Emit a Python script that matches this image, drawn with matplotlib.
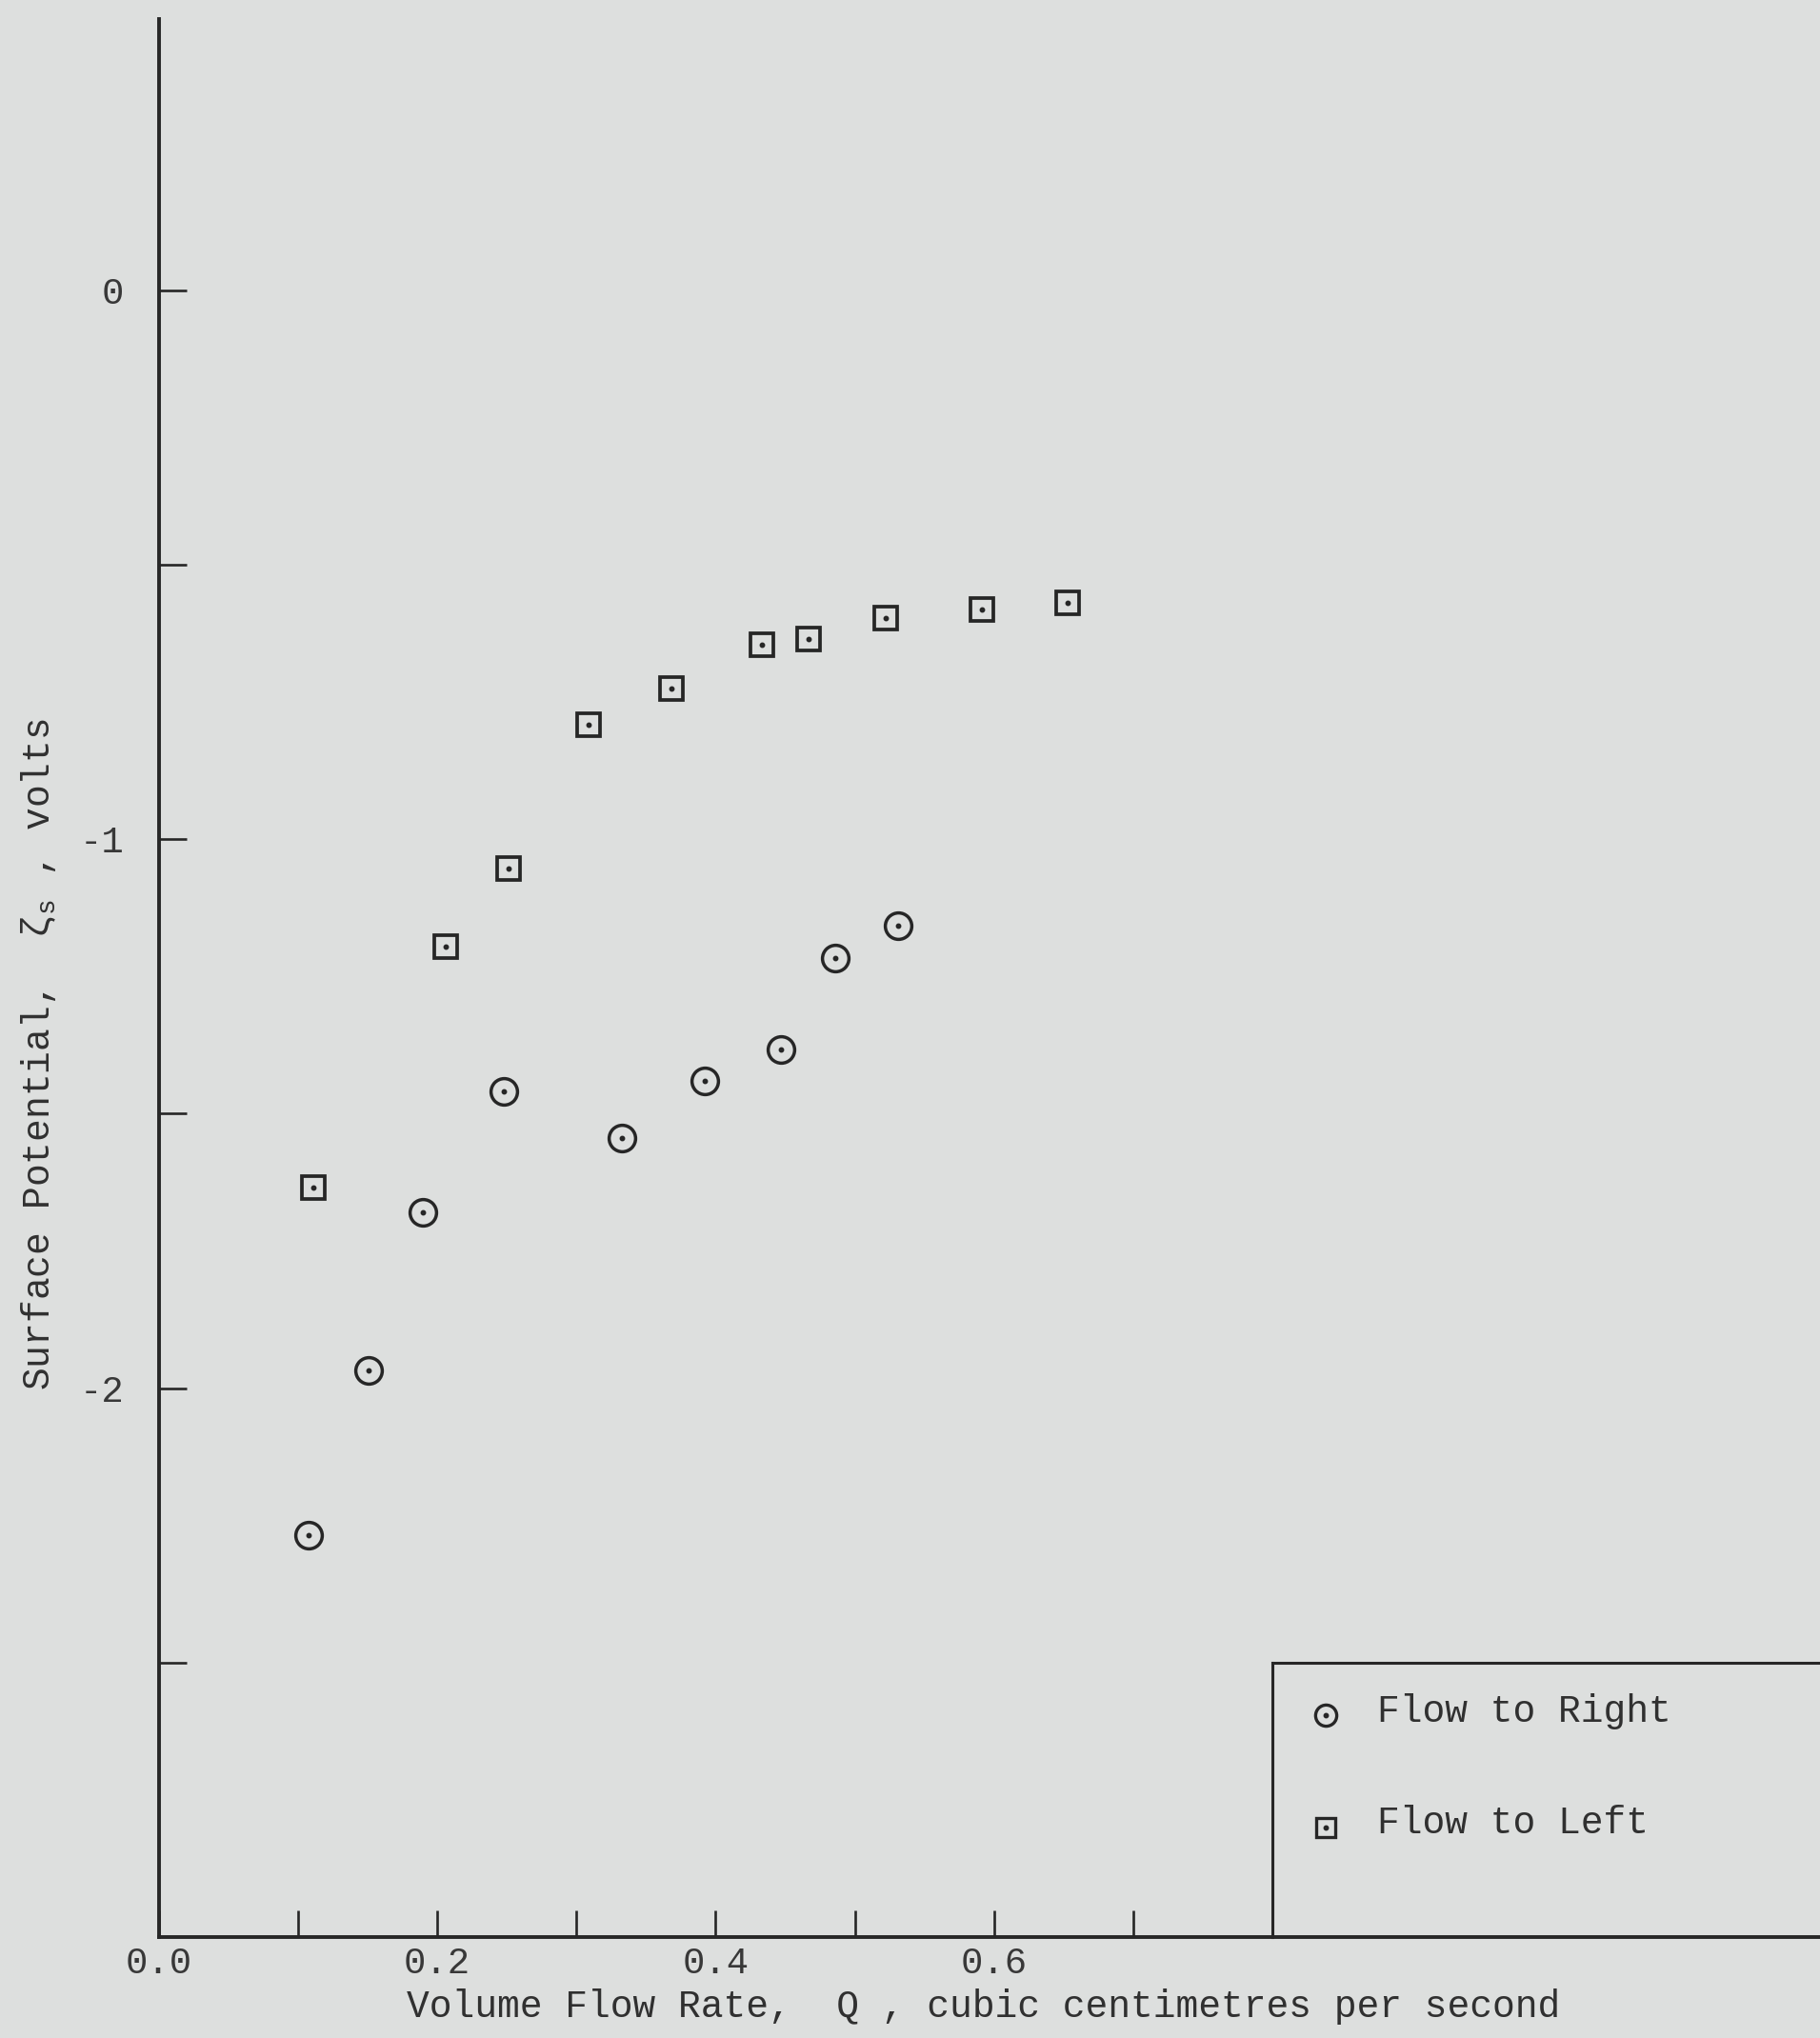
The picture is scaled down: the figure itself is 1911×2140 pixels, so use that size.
import matplotlib
matplotlib.use("Agg")
import matplotlib.pyplot as plt

# ---- data ----
right_q = [0.108, 0.151, 0.190, 0.248, 0.333, 0.392, 0.447, 0.486, 0.531]
right_zeta = [-2.268, -1.967, -1.680, -1.459, -1.544, -1.440, -1.383, -1.217, -1.158]

left_q = [0.111, 0.206, 0.251, 0.309, 0.368, 0.433, 0.467, 0.522, 0.591, 0.653]
left_zeta = [-1.635, -1.196, -1.053, -0.792, -0.726, -0.645, -0.636, -0.598, -0.581, -0.569]

x_ticks = [0.0, 0.1, 0.2, 0.3, 0.4, 0.5, 0.6, 0.7]
x_labels = ["0.0", "", "0.2", "", "0.4", "", "0.6", ""]
y_ticks = [0.0, -0.5, -1.0, -1.5, -2.0, -2.5]
y_labels = ["0", "", "-1", "", "-2", ""]

series_labels = ["Flow to Right", "Flow to Left"]

BG = "#dddfde"
INK = "#262626"
FONT = "Liberation Mono"

plt.rcParams["font.family"] = [FONT, "DejaVu Sans"]
plt.rcParams["mathtext.fontset"] = "custom"
plt.rcParams["mathtext.rm"] = FONT
plt.rcParams["mathtext.it"] = FONT

W, H = 1911, 2140
fig = plt.figure(figsize=(W / 100, H / 100), dpi=100, facecolor=BG)
ax = fig.add_axes([166.5 / W, 1 - 2034 / H, 1 - 166.5 / W, (2034 - 20) / H])
ax.set_facecolor(BG)

ax.set_xlim(0, 1.193)
ax.set_ylim(-3.0, 0.494)

for s in ["top", "right"]:
    ax.spines[s].set_visible(False)
for s in ["left", "bottom"]:
    ax.spines[s].set_color(INK)
    ax.spines[s].set_linewidth(2.8)

ax.set_xticks(x_ticks)
ax.set_xticklabels(x_labels)
ax.set_yticks(y_ticks)
ax.set_yticklabels(y_labels)
ax.tick_params(axis="x", direction="in", length=20, width=1.9, color=INK,
               labelsize=28, labelcolor="#383838", pad=7)
ax.tick_params(axis="y", direction="in", length=21, width=1.9, color=INK,
               labelsize=28, labelcolor="#383838", pad=26)
for lbl in ax.get_xticklabels():
    lbl.set_x(lbl.get_position()[0])

ms_circle = 20
ms_square = 17
# Flow to right: circles with centre dot
ax.plot(right_q, right_zeta, linestyle="none", marker="o", markersize=ms_circle,
        markerfacecolor="none", markeredgecolor=INK, markeredgewidth=2.5)
ax.plot(right_q, right_zeta, linestyle="none", marker="o", markersize=3.2,
        markerfacecolor=INK, markeredgecolor=INK)
# Flow to left: squares with centre dot
ax.plot(left_q, left_zeta, linestyle="none", marker="s", markersize=ms_square,
        markerfacecolor="none", markeredgecolor=INK, markeredgewidth=2.7)
ax.plot(left_q, left_zeta, linestyle="none", marker="o", markersize=3.2,
        markerfacecolor=INK, markeredgecolor=INK)

# legend box (drawn as in the original, open to the right edge)
ax.plot([0.8, 0.8], [-3.0, -2.5], color=INK, linewidth=2.2, clip_on=False)
ax.plot([0.8, 1.3], [-2.5, -2.5], color=INK, linewidth=2.2, clip_on=False)

leg_y = [-2.596, -2.80]
ax.plot([0.838], [leg_y[0]], linestyle="none", marker="o", markersize=16,
        markerfacecolor="none", markeredgecolor=INK, markeredgewidth=2.4)
ax.plot([0.838], [leg_y[0]], linestyle="none", marker="o", markersize=3.2,
        markerfacecolor=INK, markeredgecolor=INK)
ax.plot([0.838], [leg_y[1]], linestyle="none", marker="s", markersize=14,
        markerfacecolor="none", markeredgecolor=INK, markeredgewidth=2.4)
ax.plot([0.838], [leg_y[1]], linestyle="none", marker="o", markersize=3.2,
        markerfacecolor=INK, markeredgecolor=INK)
for yy, lab in zip(leg_y, series_labels):
    ax.text(0.875, yy + 0.008, lab, fontsize=28.5, color="#303030",
            ha="left", va="center")

# axis titles
fig.text(1033 / W, 1 - 2107 / H,
         "Volume Flow Rate,  Q , cubic centimetres per second",
         fontsize=28.5, color="#303030", ha="center", va="center")
fig.text(41 / W, 1 - 1107 / H,
         r"Surface Potential,  $\zeta_s$ , volts",
         fontsize=28.5, color="#303030", ha="center", va="center", rotation=90)

fig.savefig("out.png", dpi=100, facecolor=BG)
